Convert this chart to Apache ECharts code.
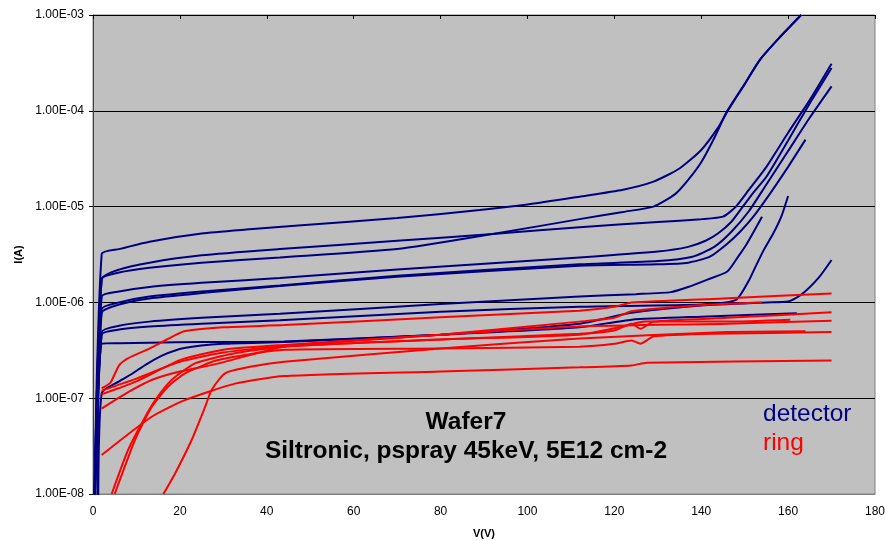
<!DOCTYPE html>
<html>
<head>
<meta charset="utf-8">
<script src="https://cdn.jsdelivr.net/npm/echarts@6/dist/echarts.min.js"></script>
<style>
html,body{margin:0;padding:0;background:#fff;}
#chart{width:885px;height:541px;}
</style>
</head>
<body>
<div id="chart"></div>
<script>
// ---- data: [V (volts), I (amps)] ----
const xTicks = [0, 20, 40, 60, 80, 100, 120, 140, 160, 180];
const yTickLabels = ['1.00E-08','1.00E-07','1.00E-06','1.00E-05','1.00E-04','1.00E-03'];

const det1 = [[0,1e-9],[2,3.2e-6],[6,3.6e-6],[13,4.3e-6],[25,5.25e-6],[36,5.8e-6],[48,6.4e-6],[70,7.6e-6],[89,9.2e-6],[100,1.05e-5],[112,1.27e-5],[122,1.5e-5],[129,1.82e-5],[135,2.5e-5],[140,3.9e-5],[144,6.8e-5],[146,9.8e-5],[150,1.9e-4],[153.5,3.4e-4],[158,5.8e-4],[163,1e-3]];
const det2 = [[0,1e-9],[2,1.75e-6],[6,2.05e-6],[13,2.3e-6],[25,2.6e-6],[43,2.95e-6],[70,3.6e-6],[92,5.17e-6],[112,7.4e-6],[122,8.8e-6],[129,1.0e-5],[134,1.35e-5],[137,1.9e-5],[140,2.9e-5],[143,5.2e-5],[146,1.0e-4],[150,1.9e-4],[153.5,3.4e-4],[158,5.8e-4],[163,1e-3]];
const det3 = [[0,1e-9],[2,1.75e-6],[6,2.2e-6],[13,2.6e-6],[25,3.1e-6],[43,3.6e-6],[70,4.4e-6],[92,5.17e-6],[112,6.1e-6],[130,6.9e-6],[140,7.4e-6],[145,7.85e-6],[148,1.0e-5],[151,1.5e-5],[155,2.6e-5],[160,5.9e-5],[165,1.3e-4],[170,3.1e-4]];
const det4 = [[0,1e-9],[2,1.15e-6],[6,1.3e-6],[13,1.45e-6],[25,1.6e-6],[43,1.8e-6],[70,2.2e-6],[112,2.95e-6],[130,3.4e-6],[137,3.8e-6],[141,4.4e-6],[144,5.3e-6],[147,7e-6],[149,9.2e-6],[152,1.4e-5],[155,2.05e-5],[160,4.9e-5],[165,1.2e-4],[170,2.8e-4]];
const det5 = [[0,1e-9],[2,7.8e-7],[6,9.5e-7],[13,1.1e-6],[25,1.25e-6],[43,1.48e-6],[70,1.85e-6],[112,2.42e-6],[130,2.5e-6],[137,2.6e-6],[142,3.0e-6],[146,4.1e-6],[149,5.5e-6],[152,7.85e-6],[156,1.4e-5],[160,2.6e-5],[164,5.0e-5]];
const det6 = [[0,1e-9],[2,4.9e-7],[6,5.7e-7],[13,6.3e-7],[25,6.9e-7],[43,7.6e-7],[80,9.6e-7],[112,1.15e-6],[125,1.22e-6],[133,1.28e-6],[137,1.45e-6],[141,1.7e-6],[146,2.1e-6],[148.5,3.0e-6],[150.5,4.1e-6],[154,7.85e-6]];
const det7 = [[0,1e-9],[2,4.6e-7],[6,5.2e-7],[13,5.6e-7],[25,6.0e-7],[43,6.5e-7],[80,8.0e-7],[112,9.0e-7],[140,9.5e-7],[148,1.06e-6],[151,1.7e-6],[152.5,2.36e-6],[154.5,3.6e-6],[156.6,5.26e-6],[158.5,8e-6],[160,1.29e-5]];
const det8 = [[0,1e-9],[2,3.7e-7],[6,3.75e-7],[13,3.8e-7],[25,3.85e-7],[44,3.9e-7],[80,4.6e-7],[112,5.5e-7],[124,6.6e-7],[140,7.1e-7],[162,7.7e-7]];
const det9 = [[1.2,5e-9],[2,1.13e-7],[6,1.5e-7],[9,1.8e-7],[12,2.22e-7],[16,2.8e-7],[21,3.34e-7],[30,3.7e-7],[44,3.86e-7],[80,4.6e-7],[112,6.0e-7],[124,7.8e-7],[140,9.3e-7],[155,1.0e-6],[160,1.02e-6],[163,1.2e-6],[167,1.8e-6],[170,2.77e-6]];
const det10 = [[1,5e-9],[2,8.5e-7],[6,1.0e-6],[13,1.15e-6],[25,1.3e-6],[43,1.5e-6],[70,1.9e-6],[112,2.5e-6],[130,2.7e-6],[138,3.0e-6],[143,3.8e-6],[147,5.5e-6],[151,9e-6],[155,1.7e-5],[160,3.8e-5],[165,8.5e-5],[170,1.8e-4]];

const ring1 = [[2,1.27e-7],[4,1.45e-7],[6,2.2e-7],[8,2.6e-7],[13,3.3e-7],[17,4.1e-7],[21,5.0e-7],[30,5.5e-7],[44,5.8e-7],[80,7.0e-7],[112,8.2e-7],[120,9.0e-7],[124,1.0e-6],[145,1.1e-6],[170,1.24e-6]];
const ring2 = [[2,7.8e-8],[8,1.15e-7],[13.5,1.55e-7],[20,1.9e-7],[29,2.31e-7],[44,3.45e-7],[80,4.6e-7],[112,6.3e-7],[120,6.9e-7],[124,8.1e-7],[142,9.5e-7],[154,1.0e-6]];
const ring3 = [[2,1.2e-7],[10,1.6e-7],[20,2.4e-7],[30,3.0e-7],[44,3.5e-7],[80,4.1e-7],[112,4.7e-7],[120,5.1e-7],[124,6.0e-7],[126,5.3e-7],[129,6.3e-7],[146,6.9e-7],[170,7.9e-7]];
const ring4 = [[4.3,1e-8],[8.1,2.9e-8],[11.6,5.9e-8],[14.3,9.5e-8],[18.1,1.55e-7],[23.5,2.31e-7],[32.7,2.95e-7],[44,3.45e-7],[80,4.1e-7],[112,4.6e-7],[122,5.6e-7],[127,6.3e-7],[146,6.3e-7],[160.5,6.6e-7]];
const ring5 = [[5,1e-8],[9.7,3.7e-8],[13.5,8.1e-8],[17.3,1.32e-7],[21.2,1.82e-7],[28.8,2.5e-7],[44,3.2e-7],[80,3.3e-7],[112,3.45e-7],[120,3.7e-7],[124,4.0e-7],[126,3.7e-7],[129,4.4e-7],[143,4.7e-7],[170,4.9e-7]];
const ring6 = [[16.2,1e-8],[18.9,1.64e-8],[22.7,3.66e-8],[25.8,8.1e-8],[27.3,1.22e-7],[30.4,1.82e-7],[36.5,2.14e-7],[44,2.4e-7],[80,3.3e-7],[112,4.2e-7],[146,4.9e-7],[164,5.0e-7]];
const ring7 = [[2,1.1e-7],[10,1.5e-7],[20,2.5e-7],[30,3.2e-7],[44,3.6e-7],[80,4.6e-7],[112,5.6e-7],[146,6.0e-7],[170,6.45e-7]];
const ring8 = [[2,2.55e-8],[13.5,6.4e-8],[21,9.5e-8],[32.7,1.42e-7],[44,1.7e-7],[80,1.9e-7],[112,2.1e-7],[124,2.2e-7],[127.5,2.35e-7],[170,2.47e-7]];

const detectorCurves = [det1, det2, det3, det4, det5, det6, det7, det8, det9, det10];
const ringCurves = [ring1, ring2, ring3, ring4, ring5, ring6, ring7, ring8];

const NAVY = '#000080', RED = '#FF0000';
const FONT = "'Liberation Sans', Arial, sans-serif";

function mkSeries(d, color, name) {
  return {
    name: name, type: 'line', data: d, showSymbol: false,
    smooth: 0.2,
    clip: true, lineStyle: { color: color, width: 2 }, itemStyle: { color: color },
    silent: true, animation: false
  };
}

const series = [];
detectorCurves.forEach((d, i) => series.push(mkSeries(d, NAVY, 'detector' + (i + 1))));
ringCurves.forEach((d, i) => series.push(mkSeries(d, RED, 'ring' + (i + 1))));

const chart = echarts.init(document.getElementById('chart'), null, { renderer: 'canvas' });
chart.setOption({
  animation: false,
  backgroundColor: '#ffffff',
  grid: { left: 93, right: 10, top: 15, bottom: 47, show: true, containLabel: false,
          outerBoundsMode: 'none',
          backgroundColor: '#C0C0C0', borderColor: '#808080', borderWidth: 1 },
  xAxis: [{
    type: 'value', min: xTicks[0], max: xTicks[xTicks.length - 1], interval: 20,
    position: 'bottom',
    name: 'V(V)', nameLocation: 'middle', nameGap: 34,
    nameTextStyle: { fontFamily: FONT, fontWeight: 'bold', fontSize: 11, color: '#000' },
    axisLine: { show: true, lineStyle: { color: '#808080', width: 1 } },
    axisTick: { show: false },
    axisLabel: { fontFamily: FONT, fontSize: 12, color: '#000', margin: 12 },
    splitLine: { show: false }
  }, {
    type: 'value', min: xTicks[0], max: xTicks[xTicks.length - 1], interval: 20,
    position: 'top',
    axisLine: { show: true, lineStyle: { color: '#000', width: 1 } },
    axisTick: { show: true, inside: true, length: 4, lineStyle: { color: '#000' } },
    axisLabel: { show: false },
    splitLine: { show: false }
  }],
  yAxis: {
    type: 'log', logBase: 10, min: 1e-8, max: 1e-3,
    name: 'I(A)', nameLocation: 'middle', nameGap: 68, nameRotate: 90,
    nameTextStyle: { fontFamily: FONT, fontWeight: 'bold', fontSize: 11, color: '#000' },
    axisLine: { show: true, lineStyle: { color: '#404040', width: 1 } },
    axisTick: { show: true, inside: false, length: 4, lineStyle: { color: '#000' } },
    axisLabel: {
      fontFamily: FONT, fontSize: 12, color: '#000', margin: 9,
      formatter: function (v) {
        const e = Math.round(Math.log10(v));
        return yTickLabels[e + 8] || '';
      }
    },
    minorTick: { show: false },
    splitLine: { show: true, lineStyle: { color: '#000', width: 1 } }
  },
  series: series,
  graphic: [
    { type: 'text', x: 466, y: 422, silent: true,
      style: { text: 'Wafer7', fill: '#000', font: "bold 24.5px " + FONT, textAlign: 'center', textVerticalAlign: 'middle' } },
    { type: 'text', x: 466, y: 451, silent: true,
      style: { text: 'Siltronic, pspray 45keV, 5E12 cm-2', fill: '#000', font: "bold 24.5px " + FONT, textAlign: 'center', textVerticalAlign: 'middle' } },
    { type: 'text', x: 763, y: 414, silent: true,
      style: { text: 'detector', fill: NAVY, font: "24.5px " + FONT, textAlign: 'left', textVerticalAlign: 'middle' } },
    { type: 'text', x: 763, y: 443, silent: true,
      style: { text: 'ring', fill: RED, font: "24.5px " + FONT, textAlign: 'left', textVerticalAlign: 'middle' } }
  ]
});
</script>
</body>
</html>
